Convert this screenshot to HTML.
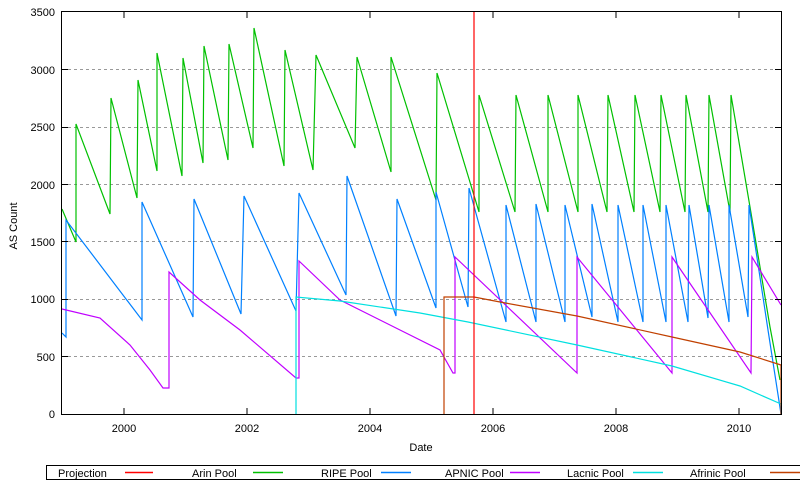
<!DOCTYPE html>
<html><head><meta charset="utf-8"><style>
body{margin:0;background:#fff}
svg{display:block;font-family:"Liberation Sans",sans-serif;font-size:11px}
</style></head><body>
<svg width="800" height="480" viewBox="0 0 800 480" xmlns="http://www.w3.org/2000/svg">
<rect width="800" height="480" fill="#fff"/>
<g stroke="#999" stroke-dasharray="3,3" stroke-width="1">
<line x1="62" y1="356.5" x2="781" y2="356.5"/>
<line x1="62" y1="299.5" x2="781" y2="299.5"/>
<line x1="62" y1="241.5" x2="781" y2="241.5"/>
<line x1="62" y1="184.5" x2="781" y2="184.5"/>
<line x1="62" y1="127.5" x2="781" y2="127.5"/>
<line x1="62" y1="69.5" x2="781" y2="69.5"/>
</g>
<g fill="#000" text-anchor="end">
<text x="55" y="418">0</text><text x="55" y="361">500</text><text x="55" y="303">1000</text>
<text x="55" y="246">1500</text><text x="55" y="189">2000</text><text x="55" y="131">2500</text>
<text x="55" y="74">3000</text><text x="55" y="16">3500</text>
</g>
<g fill="#000" text-anchor="middle">
<text x="124" y="432">2000</text><text x="247" y="432">2002</text><text x="370" y="432">2004</text>
<text x="493" y="432">2006</text><text x="616" y="432">2008</text><text x="739" y="432">2010</text>
<text x="421" y="451">Date</text>
<text transform="translate(17,226) rotate(-90)">AS Count</text>
</g>
<g fill="none" stroke-width="1.2">
<polyline stroke="#00c000" points="62,209 76,242 76,124 110,214 111,98 137,198 138,80 157,171 157,53 182,176 183,58 203,163 204,46 228,160 229,44 253,148 254,28 284,166 285,50 313,170 316,55 355,148 357,57 391,172 391,57 436,200 437,73 479,212 479,95 515,212 516,95 548,212 548,95 578,212 578,95 607,212 608,95 634,212 635,95 660,212 661,95 685,212 686,95 708,212 709,95 730,212 731,95 750,207 770,327 780,380"/>
<polyline stroke="#0080ff" points="62,333 66,337 66,220 142,320 142,202 193,317 194,199 241,314 244,196 296,311 299,193 346,295 347,176 396,316 397,199 436,308 436,192 468,307 469,188 506,322 506,205 536,322 536,204 565,322 565,205 592,317 592,204 618,322 618,205 643,322 643,205 666,322 666,205 688,322 689,205 708,318 709,205 729,322 729,205 748,317 749,205 768,330 781,414"/>
<polyline stroke="#c000ff" points="62,309 100,318 130,345 150,370 163,388 169,388 169,272 200,300 240,330 296,378 299,378 299,261 340,300 400,330 440,350 453,373 455,373 455,257 577,373 577,257 672,373 672,257 751,373 752,257 781,305"/>
<polyline stroke="#00e0e0" points="296,414 296,297 340,301 420,313 468,322 577,345 672,366 740,386 781,404 781,414"/>
<polyline stroke="#c04000" points="444,414 444,297 474,297 500,302 577,316 672,337 740,352 781,365 781,414"/>
<line stroke="#ff0000" x1="474" y1="12" x2="474" y2="414"/>
</g>
<g stroke="#000" stroke-width="1">
<rect x="61.5" y="11.5" width="720" height="403" fill="none"/>
<path d="M124 414v-6M247 414v-6M370 414v-6M493 414v-6M616 414v-6M739 414v-6M124 12v6M247 12v6M370 12v6M493 12v6M616 12v6M739 12v6"/>
<path d="M62 356.5h6M62 299.5h6M62 241.5h6M62 184.5h6M62 127.5h6M62 69.5h6M781 356.5h-6M781 299.5h-6M781 241.5h-6M781 184.5h-6M781 127.5h-6M781 69.5h-6"/>
<rect x="46.5" y="465.5" width="754" height="14" fill="none"/>
</g>
<g fill="#000">
<text x="58" y="477">Projection</text><text x="192" y="477">Arin Pool</text>
<text x="321" y="477">RIPE Pool</text><text x="445" y="477">APNIC Pool</text>
<text x="567" y="477">Lacnic Pool</text><text x="690" y="477">Afrinic Pool</text>
</g>
<g stroke-width="1.5">
<line x1="125" y1="472.5" x2="153" y2="472.5" stroke="#ff0000"/>
<line x1="253" y1="472.5" x2="283" y2="472.5" stroke="#00c000"/>
<line x1="381" y1="472.5" x2="411" y2="472.5" stroke="#0080ff"/>
<line x1="510" y1="472.5" x2="540" y2="472.5" stroke="#c000ff"/>
<line x1="633" y1="472.5" x2="663" y2="472.5" stroke="#00e0e0"/>
<line x1="770" y1="472.5" x2="800" y2="472.5" stroke="#c04000"/>
</g>
</svg>
</body></html>
